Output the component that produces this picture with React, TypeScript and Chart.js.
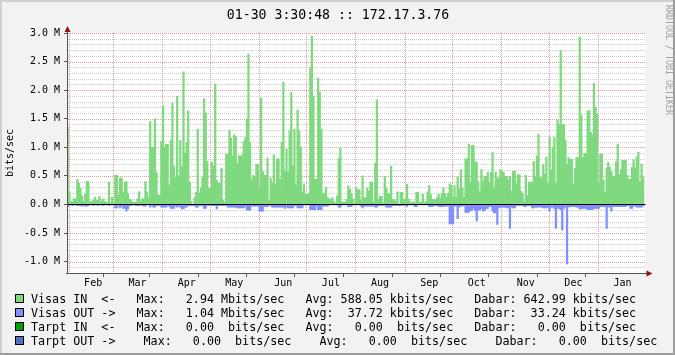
import { useEffect, useRef } from 'react';
import { Chart, registerables } from 'chart.js';

Chart.register(...registerables);

// ---------- data (Mbits/sec, one value per day, starting ~Jan 30) ----------
const chartTitle = '01-30 3:30:48 :: 172.17.3.76';
const yAxisTitle = 'bits/sec';
const watermark = 'RRDTOOL / TOBI OETIKER';

const monthNames = ['Feb', 'Mar', 'Apr', 'May', 'Jun', 'Jul', 'Aug', 'Sep', 'Oct', 'Nov', 'Dec', 'Jan'];
const monthStartDays = [1, 29, 60, 90, 121, 151, 182, 213, 243, 274, 304, 335];
const totalDays = 365;

const yMin = -1.2;
const yMax = 3.0;

const visasIn = [
  1.35, 0.22, 0.05, 0.05, 0.10, 0.10, 0.44, 0.37, 0.28, 0.15,
  0.05, 0.18, 0.40, 0.40, 0.05, 0.05, 0.07, 0.13, 0.07, 0.07,
  0.14, 0.05, 0.10, 0.06, 0.04, 0.03, 0.39, 0.03, 0.13, 0.03,
  0.51, 0.51, 0.16, 0.46, 0.46, 0.22, 0.39, 0.40, 0.19, 0.09,
  0.08, 0.04, 0.04, 0.04, 0.10, 0.22, 0.06, 0.10, 0.10, 0.40,
  0.22, 0.13, 1.45, 1.00, 1.00, 1.50, 0.56, 0.16, 0.16, 1.10,
  1.73, 1.00, 1.05, 1.05, 0.34, 1.12, 1.77, 0.67, 0.48, 1.89,
  0.51, 1.12, 0.66, 2.32, 0.90, 1.08, 1.64, 0.39, 0.05, 0.00,
  0.12, 0.21, 1.32, 0.20, 0.29, 0.47, 1.85, 1.60, 0.75, 0.28,
  0.28, 0.74, 0.68, 2.10, 0.42, 0.37, 0.37, 0.63, 0.08, 0.04,
  0.88, 0.88, 1.30, 1.16, 0.85, 1.22, 1.19, 0.72, 0.85, 0.85,
  0.87, 1.10, 1.17, 1.50, 2.63, 1.08, 0.43, 0.51, 0.49, 0.70,
  0.70, 0.31, 1.86, 0.58, 0.51, 0.51, 0.81, 0.08, 0.46, 0.37,
  0.87, 0.36, 0.80, 0.80, 0.44, 1.09, 2.14, 0.58, 0.97, 0.57,
  1.29, 1.96, 0.67, 1.32, 0.34, 1.65, 1.29, 1.00, 0.21, 0.36,
  0.18, 0.18, 0.19, 2.39, 2.94, 1.89, 0.44, 0.44, 2.21, 1.96,
  1.32, 0.20, 0.20, 0.30, 0.12, 0.10, 0.09, 0.12, 0.05, 0.03,
  0.15, 0.81, 0.99, 0.04, 0.04, 0.04, 0.09, 0.33, 0.27, 0.19,
  0.10, 0.03, 0.29, 0.25, 0.26, 0.08, 0.50, 0.12, 0.12, 0.29,
  0.23, 0.39, 0.39, 0.04, 0.72, 1.83, 0.09, 0.15, 0.14, 0.03,
  0.49, 0.28, 0.19, 0.19, 0.67, 0.09, 0.08, 0.05, 0.22, 0.00,
  0.21, 0.21, 0.09, 0.09, 0.35, 0.10, 0.05, 0.03, 0.05, 0.03,
  0.21, 0.21, 0.04, 0.04, 0.18, 0.04, 0.05, 0.22, 0.33, 0.18,
  0.09, 0.09, 0.08, 0.12, 0.18, 0.11, 0.19, 0.29, 0.19, 0.13,
  0.19, 0.36, 0.34, 0.13, 0.33, 0.13, 0.48, 0.27, 0.61, 0.29,
  0.13, 0.80, 0.80, 1.05, 0.39, 1.03, 1.03, 0.74, 0.74, 0.40,
  0.23, 0.61, 0.40, 0.49, 0.49, 0.56, 0.39, 0.56, 0.91, 0.29,
  0.56, 0.46, 0.46, 0.61, 0.58, 0.56, 0.49, 0.49, 0.43, 0.49,
  0.23, 0.58, 0.58, 0.35, 0.52, 0.52, 0.23, 0.19, 0.05, 0.51,
  0.16, 0.39, 0.39, 0.39, 0.75, 0.49, 0.85, 1.23, 0.47, 0.47,
  0.70, 0.54, 0.83, 0.37, 1.18, 0.60, 1.00, 1.17, 0.37, 1.48,
  1.40, 2.69, 1.40, 1.40, 1.12, 0.70, 0.82, 0.79, 0.79, 0.36,
  0.63, 0.82, 0.82, 2.93, 1.57, 0.82, 0.89, 0.89, 1.64, 1.64,
  1.26, 1.22, 2.12, 1.70, 1.59, 0.37, 0.88, 0.88, 0.43, 0.21,
  0.64, 0.74, 0.65, 0.58, 0.49, 0.47, 0.75, 1.05, 0.52, 0.61,
  0.77, 0.77, 0.77, 0.51, 0.44, 0.44, 0.65, 0.78, 0.64, 0.83,
  0.91, 0.40, 0.70, 0.48,
];

const visasOut = [
  -0.04, -0.01, -0.01, -0.02, -0.01, -0.01, -0.02, -0.02, -0.02, -0.03,
  -0.02, -0.03, -0.03, -0.02, -0.01, -0.01, -0.02, -0.01, -0.01, -0.02,
  -0.01, -0.01, -0.02, -0.01, -0.01, -0.01, -0.02, -0.01, -0.01, -0.01,
  -0.06, -0.06, -0.02, -0.06, -0.03, -0.07, -0.07, -0.12, -0.08, -0.02,
  -0.02, -0.01, -0.01, -0.02, -0.02, -0.02, -0.01, -0.02, -0.03, -0.03,
  -0.01, -0.01, -0.05, -0.02, -0.05, -0.05, -0.02, -0.02, -0.02, -0.05,
  -0.05, -0.05, -0.05, -0.03, -0.03, -0.07, -0.07, -0.07, -0.03, -0.05,
  -0.03, -0.05, -0.08, -0.08, -0.05, -0.05, -0.02, -0.02, -0.02, -0.02,
  -0.02, -0.05, -0.05, -0.02, -0.02, -0.02, -0.07, -0.07, -0.02, -0.02,
  -0.02, -0.02, -0.02, -0.02, -0.08, -0.02, -0.02, -0.02, -0.02, -0.02,
  -0.02, -0.05, -0.05, -0.05, -0.05, -0.05, -0.05, -0.06, -0.06, -0.06,
  -0.06, -0.06, -0.03, -0.10, -0.10, -0.10, -0.03, -0.03, -0.03, -0.03,
  -0.03, -0.12, -0.12, -0.12, -0.04, -0.04, -0.04, -0.02, -0.02, -0.05,
  -0.05, -0.05, -0.05, -0.05, -0.05, -0.05, -0.05, -0.07, -0.04, -0.06,
  -0.06, -0.06, -0.06, -0.02, -0.02, -0.06, -0.06, -0.06, -0.06, -0.01,
  -0.01, -0.01, -0.01, -0.09, -0.09, -0.09, -0.09, -0.03, -0.09, -0.09,
  -0.09, -0.03, -0.03, -0.03, -0.03, -0.01, -0.01, -0.01, -0.01, -0.01,
  -0.01, -0.05, -0.05, -0.01, -0.01, -0.01, -0.01, -0.04, -0.04, -0.04,
  -0.01, -0.01, -0.01, -0.01, -0.01, -0.03, -0.06, -0.03, -0.03, -0.03,
  -0.03, -0.03, -0.03, -0.03, -0.05, -0.05, -0.02, -0.02, -0.02, -0.02,
  -0.02, -0.05, -0.05, -0.05, -0.05, -0.02, -0.02, -0.02, -0.02, -0.02,
  -0.02, -0.02, -0.02, -0.02, -0.04, -0.01, -0.01, -0.01, -0.01, -0.04,
  -0.04, -0.01, -0.01, -0.01, -0.01, -0.01, -0.01, -0.01, -0.04, -0.04,
  -0.04, -0.02, -0.02, -0.02, -0.04, -0.04, -0.04, -0.04, -0.03, -0.03,
  -0.03, -0.34, -0.34, -0.34, -0.03, -0.03, -0.25, -0.05, -0.03, -0.03,
  -0.02, -0.14, -0.14, -0.14, -0.11, -0.11, -0.07, -0.11, -0.29, -0.10,
  -0.10, -0.07, -0.12, -0.11, -0.07, -0.07, -0.03, -0.04, -0.12, -0.15,
  -0.15, -0.35, -0.06, -0.05, -0.05, -0.05, -0.05, -0.06, -0.06, -0.42,
  -0.05, -0.06, -0.06, -0.02, -0.02, -0.02, -0.02, -0.02, -0.04, -0.04,
  -0.02, -0.02, -0.02, -0.06, -0.06, -0.05, -0.05, -0.05, -0.05, -0.05,
  -0.06, -0.06, -0.06, -0.06, -0.12, -0.05, -0.05, -0.07, -0.42, -0.07,
  -0.07, -0.09, -0.45, -0.07, -0.05, -1.04, -0.05, -0.04, -0.04, -0.04,
  -0.04, -0.05, -0.05, -0.08, -0.08, -0.07, -0.07, -0.07, -0.09, -0.09,
  -0.09, -0.09, -0.07, -0.07, -0.07, -0.07, -0.04, -0.04, -0.04, -0.04,
  -0.42, -0.05, -0.05, -0.12, -0.04, -0.04, -0.04, -0.04, -0.04, -0.04,
  -0.04, -0.04, -0.04, -0.02, -0.02, -0.07, -0.07, -0.03, -0.03, -0.05,
  -0.05, -0.05, -0.05, -0.03,
];

const legendLines = [
  'Visas IN  <-   Max:   2.94 Mbits/sec   Avg: 588.05 kbits/sec   Dabar: 642.99 kbits/sec',
  'Visas OUT ->   Max:   1.04 Mbits/sec   Avg:  37.72 kbits/sec   Dabar:  33.24 kbits/sec',
  'Tarpt IN  <-   Max:   0.00  bits/sec   Avg:   0.00  bits/sec   Dabar:   0.00  bits/sec',
  'Tarpt OUT ->    Max:   0.00  bits/sec    Avg:   0.00  bits/sec    Dabar:   0.00  bits/sec',
];

// ---------- styles ----------
const COLOR_IN = '#7fd97f';
const COLOR_OUT = '#7f8fff';
const legendColors = [COLOR_IN, COLOR_OUT, '#00a000', '#5470c4'];
const BACK = '#f2f2f2';
const SHADE_A = '#cfcfcf';
const SHADE_B = '#9e9e9e';
const AXIS = '#555555';
const ARROW = '#8c1414';
const MGRID_DOT = '#e59a9a';
const GRID_DOT = '#cdcdcd';
const MONO = '"DejaVu Sans Mono", monospace';

const monthLabelDays = monthStartDays.map((d) => d + 15.5);
const isMonthStart = (v: number) => monthStartDays.some((d) => Math.abs(d - v) < 1e-6);
const monthLabelAt = (v: number) => {
  const i = monthLabelDays.findIndex((d) => Math.abs(d - v) < 1e-6);
  return i >= 0 ? monthNames[i] : '';
};
const isMajorY = (v: number) => Math.round(v * 10) % 5 === 0;

const framePlugin = {
  id: 'rrdFrame',
  beforeDraw(chart: any) {
    const { ctx, chartArea: a, width, height } = chart;
    ctx.save();
    ctx.fillStyle = BACK;
    ctx.fillRect(0, 0, width, height);
    ctx.fillStyle = SHADE_A;
    ctx.fillRect(0, 0, width, 2);
    ctx.fillRect(0, 0, 2, height);
    ctx.fillStyle = SHADE_B;
    ctx.fillRect(0, height - 2, width, 2);
    ctx.fillRect(width - 2, 0, 2, height);
    ctx.fillStyle = '#ffffff';
    ctx.fillRect(a.left, a.top, a.right - a.left, a.bottom - a.top);
    ctx.restore();
  },
  beforeDatasetsDraw(chart: any) {
    // dotted rrdtool-style grid, placed through the scales
    const { ctx, chartArea: a, scales } = chart;
    const left = Math.round(a.left) + 1;
    const right = Math.round(a.right);
    const top = Math.round(a.top);
    const bottom = Math.round(a.bottom);
    ctx.save();
    scales.y.ticks.forEach((t: any) => {
      if (t.value <= yMin + 1e-6) return;
      const py = Math.round(scales.y.getPixelForValue(t.value));
      ctx.fillStyle = isMajorY(t.value) ? MGRID_DOT : GRID_DOT;
      for (let x = left; x < right; x += 2) ctx.fillRect(x, py, 1, 1);
    });
    ctx.fillStyle = MGRID_DOT;
    monthStartDays.forEach((d) => {
      const px = Math.round(scales.x.getPixelForValue(d));
      for (let y = top; y < bottom; y += 2) ctx.fillRect(px, y, 1, 1);
    });
    ctx.restore();
  },
  afterDraw(chart: any) {
    const { ctx, chartArea: a, scales } = chart;
    const y0 = scales.y.getPixelForValue(0);
    ctx.save();
    // zero line
    ctx.fillStyle = '#000000';
    ctx.fillRect(a.left, Math.floor(y0), a.right - a.left, 1);

    // axes + arrows
    const ax = Math.round(a.left) + 0.5;
    const ay = Math.round(a.bottom) + 0.5;
    ctx.strokeStyle = AXIS;
    ctx.lineWidth = 1;
    ctx.beginPath();
    ctx.moveTo(a.left - 1, ay);
    ctx.lineTo(a.right + 3, ay);
    ctx.moveTo(ax, a.bottom + 1);
    ctx.lineTo(ax, a.top - 3);
    ctx.stroke();
    ctx.fillStyle = ARROW;
    ctx.beginPath();
    ctx.moveTo(a.right + 1, ay - 3);
    ctx.lineTo(a.right + 7, ay);
    ctx.lineTo(a.right + 1, ay + 3);
    ctx.closePath();
    ctx.fill();
    ctx.beginPath();
    ctx.moveTo(ax - 3, a.top - 1);
    ctx.lineTo(ax, a.top - 7);
    ctx.lineTo(ax + 3, a.top - 1);
    ctx.closePath();
    ctx.fill();

    // title
    ctx.fillStyle = '#000000';
    ctx.font = '13.2px ' + MONO;
    ctx.textAlign = 'center';
    ctx.textBaseline = 'alphabetic';
    ctx.fillText(chartTitle, 338, 18.5);

    // watermark
    ctx.save();
    ctx.translate(668.5, 5);
    ctx.rotate(Math.PI / 2);
    ctx.scale(5 / (11 * 0.602), 1);
    ctx.font = '11px ' + MONO;
    ctx.fillStyle = '#a0a0a0';
    ctx.textAlign = 'left';
    ctx.textBaseline = 'middle';
    ctx.fillText(watermark, 0, 0);
    ctx.restore();

    // legend
    ctx.font = '11.7px ' + MONO;
    ctx.textAlign = 'left';
    ctx.textBaseline = 'alphabetic';
    legendLines.forEach((line, i) => {
      const base = 302.5 + i * 14;
      ctx.fillStyle = '#000000';
      ctx.fillRect(15, base - 8.5, 9, 9);
      ctx.fillStyle = legendColors[i];
      ctx.fillRect(16, base - 7.5, 7, 7);
      ctx.fillStyle = '#000000';
      ctx.fillText(line, 31, base);
    });
    ctx.restore();
  },
};

export default function App() {
  const canvasRef = useRef<HTMLCanvasElement | null>(null);

  useEffect(() => {
    const canvas = canvasRef.current;
    if (!canvas) return;
    const inPoints = visasIn.map((v, i) => ({ x: i + 0.5, y: v }));
    const outPoints = visasOut.map((v, i) => ({ x: i + 0.5, y: v }));

    const chart = new Chart(canvas, {
      type: 'bar',
      data: {
        datasets: [
          {
            label: 'Visas IN',
            data: inPoints,
            backgroundColor: COLOR_IN,
            borderWidth: 0,
            barPercentage: 1,
            categoryPercentage: 1,
            grouped: false,
          } as any,
          {
            label: 'Visas OUT',
            data: outPoints,
            backgroundColor: COLOR_OUT,
            borderWidth: 0,
            barPercentage: 1,
            categoryPercentage: 1,
            grouped: false,
          } as any,
        ],
      },
      options: {
        responsive: false,
        animation: false,
        devicePixelRatio: 1,
        layout: { padding: { left: 0, right: 29.5, top: 33, bottom: 0 } },
        plugins: {
          legend: { display: false },
          title: { display: false },
          tooltip: { enabled: false },
        },
        scales: {
          x: {
            type: 'linear',
            min: 0,
            max: totalDays,
            offset: false,
            afterFit: (s: any) => {
              s.height = 82;
            },
            afterBuildTicks: (s: any) => {
              const vals = [...monthStartDays, ...monthLabelDays].sort((p, q) => p - q);
              s.ticks = vals.map((v) => ({ value: v }));
            },
            grid: {
              drawOnChartArea: false,
              color: 'rgba(0,0,0,0)',
              tickColor: (c: any) => (c.tick && isMonthStart(c.tick.value) ? AXIS : 'rgba(0,0,0,0)'),
              tickLength: 4,
              tickBorderDash: [],
              lineWidth: 1,
            },
            border: { display: false },
            ticks: {
              autoSkip: false,
              maxRotation: 0,
              minRotation: 0,
              padding: 0,
              color: '#000000',
              font: { family: MONO, size: 10 },
              callback: (v: any) => monthLabelAt(Number(v)),
            },
          },
          y: {
            type: 'linear',
            min: yMin,
            max: yMax,
            afterFit: (s: any) => {
              s.width = 67;
            },
            afterBuildTicks: (s: any) => {
              const t = [];
              for (let k = Math.round(yMin * 10); k <= Math.round(yMax * 10); k++) t.push({ value: k / 10 });
              s.ticks = t;
            },
            grid: {
              drawOnChartArea: false,
              color: 'rgba(0,0,0,0)',
              tickColor: (c: any) => (c.tick && isMajorY(c.tick.value) ? AXIS : 'rgba(0,0,0,0)'),
              tickLength: 3,
              tickBorderDash: [],
              lineWidth: 1,
            },
            border: { display: false },
            ticks: {
              autoSkip: false,
              padding: 4,
              color: '#000000',
              font: { family: MONO, size: 10 },
              callback: (v: any) => {
                const n = Number(v);
                return isMajorY(n) ? n.toFixed(1) + ' M' : '';
              },
            },
            title: {
              display: true,
              text: yAxisTitle,
              color: '#000000',
              font: { family: MONO, size: 10 },
              padding: { top: 4, bottom: 0 },
            },
          },
        },
      } as any,
      plugins: [framePlugin],
    });
    return () => chart.destroy();
  }, []);

  return (
    <div style={{ position: 'absolute', left: 0, top: 0, width: 675, height: 355 }}>
      <canvas ref={canvasRef} width={675} height={355} style={{ display: 'block', width: 675, height: 355 }} />
    </div>
  );
}
